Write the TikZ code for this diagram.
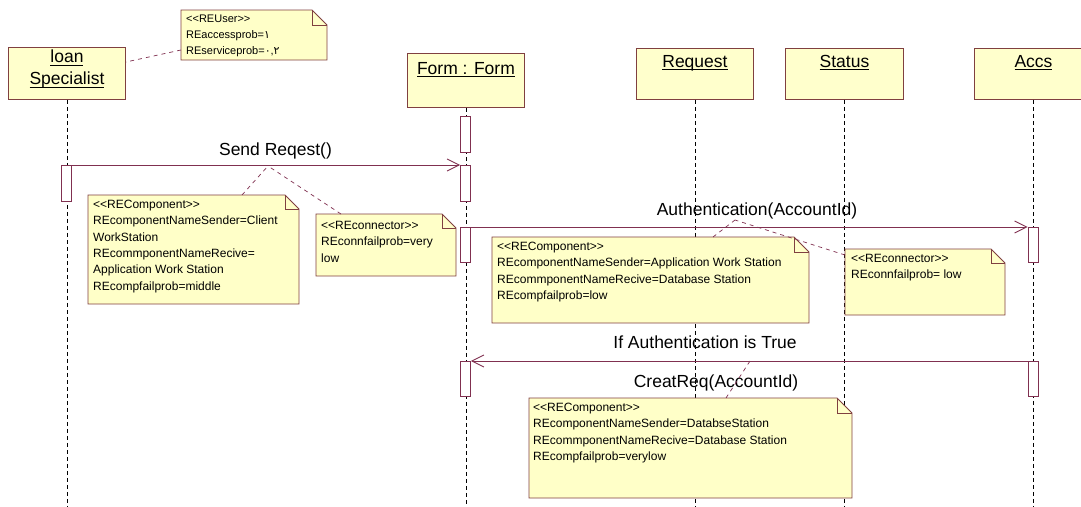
\documentclass[tikz,border=0pt]{standalone}
\usepackage{fontspec}
\setmainfont{Liberation Sans}
\newfontfamily\arabicdigits{DejaVu Sans}
\usetikzlibrary{arrows.meta,calc}

\definecolor{boxfill}{RGB}{255,255,204}
\definecolor{boxline}{RGB}{128,64,64}
\definecolor{msgline}{RGB}{128,48,80}
\definecolor{notefill}{RGB}{255,255,200}
\definecolor{noteline}{RGB}{128,64,64}

% underlined object name, rule placed just under the baseline
\newcommand\lblul[1]{\setbox0=\hbox{#1}\rlap{\rule[-2.6pt]{\wd0}{0.9pt}}\box0}
% stereotype brackets, kept as plain < and > characters
\newcommand\stereo[1]{<\kern0pt<#1>\kern0pt>}
% folded-corner note: x1 y1 x2 y2 fold
\newcommand\REnotebox[5]{%
  \filldraw[notepath] (#1,#2) -- (#3-#5,#2) -- (#3,#2+#5) -- (#3,#4) -- (#1,#4) -- cycle;
  \draw[notepath, fill=none] (#3-#5,#2) -- (#3-#5,#2+#5) -- (#3,#2+#5);
}

\tikzset{
  head/.style={draw=boxline, fill=boxfill, line width=0.9pt, inner sep=0pt, anchor=north west},
  headtext/.style={font=\fontsize{17.5}{22}\selectfont, inner sep=0pt, anchor=north, align=center},
  lifeline/.style={draw=black, line width=0.6pt, dash pattern=on 4pt off 3pt},
  act/.style={draw=msgline, fill=white, line width=0.8pt, minimum width=10pt, inner sep=0pt, anchor=north},
  msg/.style={draw=msgline, line width=0.9pt, -{Straight Barb[length=12pt,width=12pt,line width=0.9pt]}},
  msglabel/.style={font=\fontsize{17.5}{20}\selectfont, inner sep=0pt, anchor=base},
  notepath/.style={draw=noteline, fill=notefill, line width=0.8pt},
  notetext/.style={font=\fontsize{12}{16.3}\selectfont, inner sep=0pt, anchor=north west, align=left},
  tie/.style={draw=msgline, line width=0.7pt, dash pattern=on 4pt off 4pt},
}

\begin{document}
\begin{tikzpicture}[x=1pt,y=-1pt]
\useasboundingbox (0,0) rectangle (1081,506);
\fill[white] (0,0) rectangle (1081,506);
\coordinate (bottom) at (0,506);

% object heads
\node[head, minimum width=117pt, minimum height=52pt,
  label={[headtext, yshift=-3pt]north:{\lblul{loan}\\\lblul{Specialist}}}] (loanBox) at (8,47) {};
\node[head, minimum width=117pt, minimum height=54pt,
  label={[headtext, yshift=-9pt]north:{\lblul{Form : Form}}}] (formBox) at (407,53) {};
\node[head, minimum width=117pt, minimum height=51pt,
  label={[headtext, yshift=-7pt]north:{\lblul{Request}}}] (reqBox) at (636,48) {};
\node[head, minimum width=118pt, minimum height=51pt,
  label={[headtext, yshift=-7pt]north:{\lblul{Status}}}] (statBox) at (785,48) {};
\node[head, minimum width=118pt, minimum height=51pt,
  label={[headtext, yshift=-7pt]north:{\lblul{Accs}}}] (accsBox) at (974,48) {};

% lifelines
\foreach \b in {loanBox,formBox,reqBox,statBox,accsBox}
  \draw[lifeline] (\b.south) -- (\b.south |- bottom);

% activations
\node[act, minimum height=36pt] (aF1) at (465.5,116) {};
\node[act, minimum height=36pt] (aL1) at (66.5,165) {};
\node[act, minimum height=36pt] (aF2) at (465.5,165) {};
\node[act, minimum height=35pt] (aF3) at (465.5,227) {};
\node[act, minimum height=35pt] (aA1) at (1033,227) {};
\node[act, minimum height=35pt] (aF4) at (465.5,361) {};
\node[act, minimum height=35pt] (aA2) at (1033,361) {};

% messages
\draw[msg] (aL1.north east) -- (aF2.north west);
\node[msglabel] (mSend) at (275.5,155) {Send Reqest()};
\draw[msg] (aF3.north east) -- (aA1.north west);
\node[msglabel] (mAuth) at (757,215) {Authentication(AccountId)};
\draw[msg] (aA2.north west) -- (aF4.north east);
\node[msglabel] (mRet) at (705,348.5) {If Authentication is True};
\node[msglabel] (mCreate) at (716,387) {CreatReq(AccountId)};

% notes
\REnotebox{181}{10}{327}{60}{15}
\node[notetext, font=\fontsize{11}{16}\selectfont] (nUser) at (186,15)
  {\stereo{REUser}\\REaccessprob={\arabicdigits ١}\\REserviceprob={\arabicdigits ٠},{\arabicdigits ٢}};

\REnotebox{88}{195}{299}{304}{14}
\node[notetext] (nComp1) at (93,200)
  {\stereo{REComponent}\\REcomponentNameSender=Client\\WorkStation\\REcommponentNameRecive=\\Application Work Station\\REcompfailprob=middle};

\REnotebox{316}{214}{456}{276}{14}
\node[notetext] (nConn1) at (321,221)
  {\stereo{REconnector}\\REconnfailprob=very\\low};

\REnotebox{492}{237}{809}{323}{15}
\node[notetext] (nComp2) at (497,242)
  {\stereo{REComponent}\\REcomponentNameSender=Application Work Station\\REcommponentNameRecive=Database Station\\REcompfailprob=low};

\REnotebox{845}{249}{1005}{315}{14}
\node[notetext] (nConn2) at (851,254)
  {\stereo{REconnector}\\REconnfailprob= low};

\REnotebox{529}{398}{852}{498}{15}
\node[notetext] (nComp3) at (533,403)
  {\stereo{REComponent}\\REcomponentNameSender=DatabseStation\\REcommponentNameRecive=Database Station\\REcompfailprob=verylow};

% note attachments
\coordinate (userTie) at (181,50);
\coordinate (loanTie) at (126,62);
\coordinate (sendTie) at (268,166);
\coordinate (comp1Tie) at (242,195);
\coordinate (conn1Tie) at (341,214);
\coordinate (authTie) at (735,220);
\coordinate (comp2Tie) at (713,237);
\coordinate (conn2Tie) at (845,255);
\coordinate (retTie) at (750,361);
\coordinate (comp3Tie) at (726,398);

\draw[tie] (userTie) -- (loanTie);
\draw[tie] (comp1Tie) -- (sendTie);
\draw[tie] (conn1Tie) -- (sendTie);
\draw[tie] (comp2Tie) -- (authTie);
\draw[tie] (conn2Tie) -- (authTie);
\draw[tie] (comp3Tie) -- (retTie);
\end{tikzpicture}
\end{document}
